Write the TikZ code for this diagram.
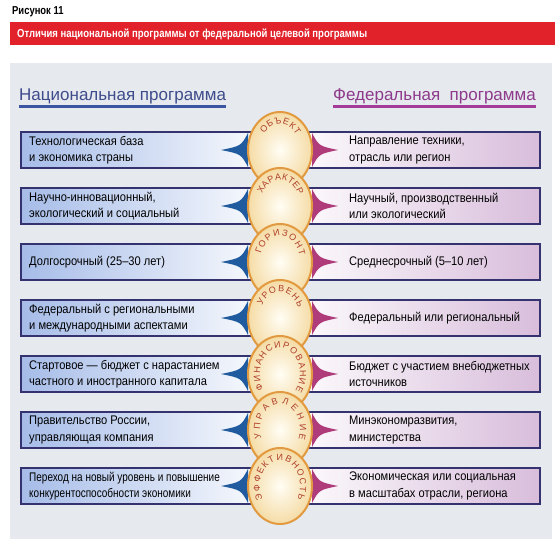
\documentclass[tikz,border=0pt]{standalone}
\usepackage{fontspec}
\setmainfont{Liberation Sans}
\setsansfont{Liberation Sans}
\newfontfamily\condfont[FakeStretch=0.89]{Liberation Sans}
\newfontfamily\squeezefont[FakeStretch=0.8]{Liberation Sans}
\newfontfamily\narrowbold[FakeStretch=0.82]{Liberation Sans Bold}
\usetikzlibrary{decorations.text,shapes.geometric}
\definecolor{redbar}{HTML}{E2222B}
\definecolor{panel}{HTML}{E6E9EE}
\definecolor{natcol}{HTML}{3E4C8C}
\definecolor{natline}{HTML}{3A55A2}
\definecolor{fedcol}{HTML}{8E3A8C}
\definecolor{fedline}{HTML}{A33C98}
\definecolor{rowline}{HTML}{35336F}
\definecolor{leftfill}{HTML}{A6BCE8}
\definecolor{rightfill}{HTML}{D8BDDB}
\definecolor{arrowblue}{HTML}{1F5B9E}
\definecolor{arrowpink}{HTML}{B03B7B}
\definecolor{circin}{HTML}{FFFDF4}
\definecolor{circout}{HTML}{F5DCA6}
\definecolor{circline}{HTML}{E29A40}
\definecolor{circtext}{HTML}{B0402A}
\newcommand\ctext{\fontsize{9}{9}\selectfont\sffamily\color{circtext}}
\tikzset{
  x=1pt, y=1pt,
  rowbox/.style={draw=rowline, line width=2.3pt, left color=leftfill, right color=rightfill, middle color=white,
    minimum width=519pt, minimum height=36pt, inner sep=0, outer sep=0},
  rowtext/.style={anchor=west, align=left, inner sep=0, text=black, font=\fontsize{12.5}{16.5}\selectfont\condfont},
  circnode/.style={ellipse, draw=circline, line width=2pt, inner color=circin, outer color=circout,
    minimum width=64pt, minimum height=76pt, inner sep=0},
  titletext/.style={anchor=base west, inner sep=0, font=\fontsize{17}{17}\selectfont\sffamily},
  arcfit/.style={decorate, decoration={text along path, text align=fit to path}}
}
\begin{document}
\begin{tikzpicture}
\useasboundingbox (0,0) rectangle (557,-547);
\fill[white] (0,0) rectangle (557,-547);
% header
\node[anchor=base west, inner sep=0, font=\fontsize{11.5}{11.5}\selectfont\narrowbold] (fig) at (12,-14) {Рисунок 11};
\fill[redbar] (10,-22) rectangle (555,-45);
\node[anchor=base west, inner sep=0, text=white, font=\fontsize{11.6}{11.6}\selectfont\narrowbold] (head) at (17,-37.5) {Отличия национальной программы от федеральной целевой программы};
% panel
\fill[panel] (10,-63) rectangle (552,-539);
% titles
\node[titletext, text=natcol] (nat) at (19,-100) {Национальная программа};
\draw[natline, line width=3pt] ([yshift=-6pt]nat.base west) -- ([yshift=-6pt]nat.base east);
\node[titletext, text=fedcol] (fed) at (333,-100) {Федеральная\ \ программа};
\draw[fedline, line width=3pt] ([yshift=-6pt]fed.base west) -- ([yshift=-6pt]fed.base east);
% rows
\foreach \i/\c in {1/150,2/206,3/262,4/318,5/374,6/430,7/486}{
  \node[rowbox] (r\i) at (280.5,-\c) {};
  \fill[arrowblue] (248,-\c+17) .. controls (241,-\c+4) .. (221,-\c) .. controls (241,-\c-4) .. (248,-\c-17) -- cycle;
  \fill[arrowpink] (312,-\c+17) .. controls (319,-\c+4) .. (338,-\c) .. controls (319,-\c-4) .. (312,-\c-17) -- cycle;
}
% left texts
\node[rowtext] (l1) at (29,-150) {Технологическая база\\и экономика страны};
\node[rowtext] (l2) at (29,-206) {Научно-инновационный,\\экологический и социальный};
\node[rowtext] (l3) at (29,-262) {Долгосрочный (25–30 лет)};
\node[rowtext] (l4) at (29,-318) {Федеральный с региональными\\и международными аспектами};
\node[rowtext] (l5) at (29,-374) {Стартовое — бюджет с нарастанием\\частного и иностранного капитала};
\node[rowtext] (l6) at (29,-430) {Правительство России,\\управляющая компания};
\node[rowtext, font=\fontsize{12.5}{16.5}\selectfont\squeezefont] (l7) at (29,-486) {Переход на новый уровень и повышение\\конкурентоспособности экономики};
% right texts
\node[rowtext] (q1) at (349,-150) {Направление техники,\\отрасль или регион};
\node[rowtext] (q2) at (349,-206) {Научный, производственный\\или экологический};
\node[rowtext] (q3) at (349,-262) {Среднесрочный (5–10 лет)};
\node[rowtext] (q4) at (349,-318) {Федеральный или региональный};
\node[rowtext] (q5) at (349,-374) {Бюджет с участием внебюджетных\\источников};
\node[rowtext] (q6) at (349,-430) {Минэкономразвития,\\министерства};
\node[rowtext] (q7) at (349,-486) {Экономическая или социальная\\в масштабах отрасли, региона};
% circles
\node[circnode] (k1) at (280,-150) {};
\path[arcfit, decoration={text={|\ctext|ОБЪЕКТ}}] ([shift={(142:20pt and 26pt)}]k1.center) arc[start angle=142, end angle=36, x radius=20pt, y radius=26pt];
\node[circnode] (k2) at (280,-206) {};
\path[arcfit, decoration={text={|\ctext|ХАРАКТЕР}}] ([shift={(152:20pt and 26pt)}]k2.center) arc[start angle=152, end angle=24, x radius=20pt, y radius=26pt];
\node[circnode] (k3) at (280,-262) {};
\path[arcfit, decoration={text={|\ctext|ГОРИЗОНТ}}] ([shift={(162:20pt and 26pt)}]k3.center) arc[start angle=162, end angle=14, x radius=20pt, y radius=26pt];
\node[circnode] (k4) at (280,-318) {};
\path[arcfit, decoration={text={|\ctext|УРОВЕНЬ}}] ([shift={(152:20pt and 26pt)}]k4.center) arc[start angle=152, end angle=24, x radius=20pt, y radius=26pt];
\node[circnode] (k5) at (280,-374) {};
\path[arcfit, decoration={text={|\ctext|ФИНАНСИРОВАНИЕ}}] ([shift={(215:20pt and 26pt)}]k5.center) arc[start angle=215, end angle=-40, x radius=20pt, y radius=26pt];
\node[circnode] (k6) at (280,-430) {};
\path[arcfit, decoration={text={|\ctext|УПРАВЛЕНИЕ}}] ([shift={(200:20pt and 26pt)}]k6.center) arc[start angle=200, end angle=-22, x radius=20pt, y radius=26pt];
\node[circnode] (k7) at (280,-486) {};
\path[arcfit, decoration={text={|\ctext|ЭФФЕКТИВНОСТЬ}}] ([shift={(210:20pt and 26pt)}]k7.center) arc[start angle=210, end angle=-30, x radius=20pt, y radius=26pt];
\end{tikzpicture}
\end{document}
